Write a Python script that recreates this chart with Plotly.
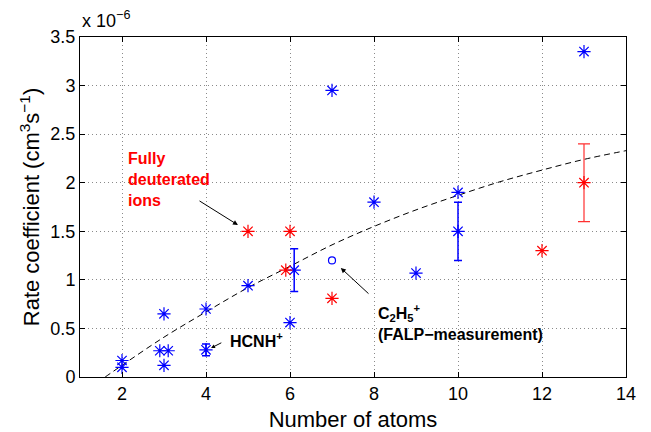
import plotly.graph_objects as go

# ---- data (rate coefficients in units of 1e-6 cm^3 s^-1) ----
blue_x = [2, 2, 2.9, 3.1, 3, 3, 4, 5, 6, 7, 8, 9, 10, 13]
blue_y = [0.10, 0.17, 0.27, 0.27, 0.65, 0.12, 0.70, 0.94, 0.56, 2.95, 1.80, 1.07, 1.90, 3.35]

blue_err_x = [4, 6.1, 10]
blue_err_y = [0.28, 1.10, 1.50]
blue_err = [0.06, 0.22, 0.30]

red_x = [5, 6, 5.9, 7, 12]
red_y = [1.50, 1.50, 1.10, 0.81, 1.30]

red_err_x = [13]
red_err_y = [2.00]
red_err = [0.40]

falp_x = [7]
falp_y = [1.20]

fit_x = [1.6, 2, 3, 4, 5, 6, 7, 8, 9, 10, 11, 12, 13, 14]
fit_y = [0.0, 0.12, 0.41, 0.67, 0.92, 1.14, 1.36, 1.55, 1.72, 1.87, 2.01, 2.13, 2.24, 2.33]

x_ticks = [2, 4, 6, 8, 10, 12, 14]
y_ticks = [0, 0.5, 1, 1.5, 2, 2.5, 3, 3.5]
y_tick_text = ["0", "0.5", "1", "1.5", "2", "2.5", "3", "3.5"]

BLUE = "#0000ff"
RED = "#ff0000"
FONT = "Liberation Sans, Arial, sans-serif"


def star(color):
    return dict(symbol="asterisk-open", size=11, color=color, line=dict(color=color, width=1.2))


fig = go.Figure()

fig.add_trace(go.Scatter(x=fit_x, y=fit_y, mode="lines",
                         line=dict(color="black", width=1, dash="6px,4px", shape="spline"),
                         hoverinfo="skip"))

fig.add_trace(go.Scatter(x=blue_x, y=blue_y, mode="markers", marker=star(BLUE)))
fig.add_trace(go.Scatter(x=blue_err_x, y=blue_err_y, mode="markers", marker=star(BLUE),
                         error_y=dict(type="data", array=blue_err, color=BLUE, thickness=1.5, width=4)))
fig.add_trace(go.Scatter(x=red_x, y=red_y, mode="markers", marker=star(RED)))
fig.add_trace(go.Scatter(x=red_err_x, y=red_err_y, mode="markers", marker=star(RED),
                         error_y=dict(type="data", array=red_err, color="#ff3030", thickness=1.2, width=6)))
fig.add_trace(go.Scatter(x=falp_x, y=falp_y, mode="markers",
                         marker=dict(symbol="circle-open", size=7, color=BLUE, line=dict(color=BLUE, width=1.2))))

axis_common = dict(showline=True, linecolor="black", linewidth=1, mirror="ticks",
                   ticks="inside", ticklen=5, tickcolor="black", automargin=False,
                   showgrid=True, gridcolor="#8a8a8a", griddash="1px,3px", gridwidth=1,
                   zeroline=False, tickfont=dict(family=FONT, size=18, color="black"))

fig.update_xaxes(range=[1, 14], tickvals=x_ticks, **axis_common,
                 title=dict(text="Number of atoms", font=dict(family=FONT, size=22, color="black"), standoff=10))
fig.update_yaxes(range=[0, 3.5], tickvals=y_ticks, ticktext=y_tick_text, **axis_common,
                 title=dict(text="Rate coefficient (cm<sup>3</sup>s<sup>−1</sup>)",
                            font=dict(family=FONT, size=22, color="black"), standoff=4))

ann = []
# exponent label
ann.append(dict(xref="paper", yref="paper", x=0.0, y=1.0, xanchor="left", yanchor="bottom",
                text="x 10<sup>−6</sup>", showarrow=False, yshift=4,
                font=dict(family=FONT, size=18, color="black")))
# text labels
ann.append(dict(x=2.09, y=2.03, xref="x", yref="y", xanchor="left", yanchor="middle", align="left",
                text="<b>Fully<br>deuterated<br>ions</b>", showarrow=False,
                font=dict(family=FONT, size=16, color=RED)))
ann.append(dict(x=4.52, y=0.38, xref="x", yref="y", xanchor="left", yanchor="middle", align="left",
                text="<b>HCNH<sup>+</sup></b>", showarrow=False,
                font=dict(family=FONT, size=16, color="black")))
ann.append(dict(x=8.05, y=0.56, xref="x", yref="y", xanchor="left", yanchor="middle", align="left",
                text="<b>C<sub>2</sub>H<sub>5</sub><sup>+</sup><br>(FALP−measurement)</b>", showarrow=False,
                font=dict(family=FONT, size=16, color="black")))
# arrows
for tip, tail, size in [((4.76, 1.565), (3.81, 1.822), 1.0),
                        ((4.12, 0.298), (4.40, 0.360), 0.8),
                        ((7.21, 1.122), (7.905, 0.844), 1.0)]:
    ann.append(dict(x=tip[0], y=tip[1], ax=tail[0], ay=tail[1], xref="x", yref="y",
                    axref="x", ayref="y", text="", showarrow=True, arrowhead=2,
                    arrowsize=size, arrowwidth=1, arrowcolor="black"))

# page body has an 8px default margin; figure is sized so the plot lands where the reference has it
fig.update_layout(width=643, height=424, margin=dict(l=72, r=25, t=29, b=55),
                  plot_bgcolor="white", paper_bgcolor="white", showlegend=False,
                  annotations=ann, font=dict(family=FONT))

fig.write_html("out.html")
